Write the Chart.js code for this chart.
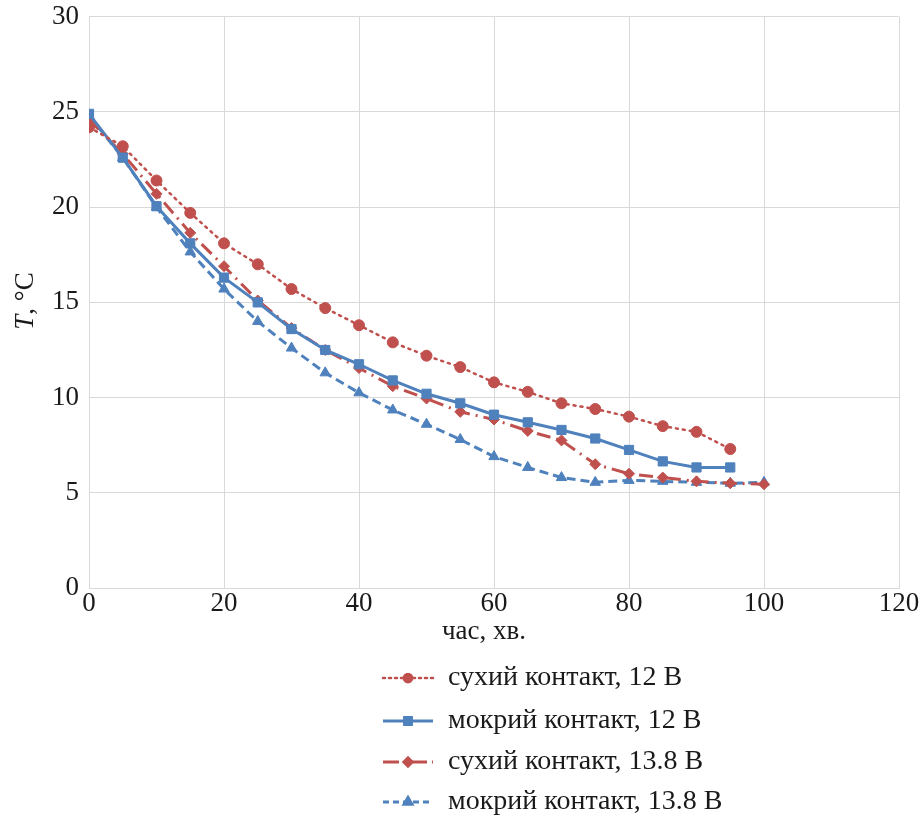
<!DOCTYPE html>
<html>
<head>
<meta charset="utf-8">
<script src="https://cdn.jsdelivr.net/npm/chart.js@4"></script>
<style>
html,body{margin:0;padding:0;background:#fff;}
#wrap{width:923px;height:816px;position:relative;}
</style>
</head>
<body>
<div id="wrap"><canvas id="c" width="923" height="816"></canvas></div>
<script>
const timeShort = [0,5,10,15,20,25,30,35,40,45,50,55,60,65,70,75,80,85,90,95];
const timeLong = [0,5,10,15,20,25,30,35,40,45,50,55,60,65,70,75,80,85,90,95,100];
const dry12 = [24.2,23.2,21.4,19.7,18.1,17.0,15.7,14.7,13.8,12.9,12.2,11.6,10.8,10.3,9.7,9.4,9.0,8.5,8.2,7.3];
const wet12 = [24.9,22.6,20.05,18.1,16.3,15.0,13.6,12.5,11.75,10.9,10.2,9.7,9.1,8.7,8.3,7.85,7.25,6.65,6.33,6.33];
const dry138 = [24.6,22.8,20.7,18.65,16.9,15.1,13.65,12.5,11.55,10.6,9.95,9.25,8.85,8.25,7.75,6.5,6.0,5.8,5.6,5.5,5.45];
const wet138 = [24.8,22.6,20.0,17.65,15.7,14.0,12.6,11.3,10.25,9.35,8.6,7.8,6.9,6.33,5.8,5.55,5.65,5.6,5.55,5.5,5.55];
const seriesNames = ['сухий контакт, 12 В','мокрий контакт, 12 В','сухий контакт, 13.8 В','мокрий контакт, 13.8 В'];
const xTitle = 'час, хв.';

const RED = '#C0504D', BLUE = '#4F81BD';
function pts(xs, ys){ return ys.map((v,i)=>({x:xs[i], y:v})); }

const datasets = [
  {label:seriesNames[0], data:pts(timeShort,dry12), borderColor:RED, borderWidth:2.5, borderDash:[2,5], pointStyle:'circle', pointRadius:5.5, borderCapStyle:'round', legendDash:[2,4]},
  {label:seriesNames[1], data:pts(timeShort,wet12), borderColor:BLUE, borderWidth:3, borderDash:[], pointStyle:'rect', pointRadius:6.5, legendDash:[]},
  {label:seriesNames[2], data:pts(timeLong,dry138), borderColor:RED, borderWidth:3, borderDash:[14,6,2,6], pointStyle:'rectRot', pointRadius:5.5, legendDash:[16,5,2,5]},
  {label:seriesNames[3], data:pts(timeLong,wet138), borderColor:BLUE, borderWidth:3, borderDash:[9,5], pointStyle:'triangle', pointRadius:6, legendDash:[6,4]}
];
datasets.forEach(d=>{ d.backgroundColor=d.borderColor; d.pointBorderWidth=1; d.pointBorderColor=d.borderColor; d.pointBackgroundColor=d.borderColor; d.tension=0; d.fill=false; });

const FONT = "'Liberation Serif', 'Times New Roman', serif";
const TXT = '#1a1a1a';

const extras = {
  id:'extras',
  afterDraw(chart){
    const ctx = chart.ctx;
    // y-axis title
    ctx.save();
    ctx.translate(26, 301);
    ctx.rotate(-Math.PI/2);
    ctx.fillStyle = TXT;
    ctx.textBaseline = 'middle';
    ctx.font = 'italic 27px ' + FONT;
    const t1 = 'T';
    const w1 = ctx.measureText(t1).width;
    ctx.font = '27px ' + FONT;
    const t2 = ', °C';
    const w2 = ctx.measureText(t2).width;
    let sx = -(w1+w2)/2;
    ctx.font = 'italic 27px ' + FONT;
    ctx.textAlign = 'left';
    ctx.fillText(t1, sx, 0);
    ctx.font = '27px ' + FONT;
    ctx.fillText(t2, sx + w1, 0);
    ctx.restore();

    // x-axis title
    ctx.save();
    ctx.fillStyle = TXT;
    ctx.font = '27px ' + FONT;
    ctx.textAlign = 'center';
    ctx.textBaseline = 'middle';
    ctx.fillText(xTitle, 484, 632);
    ctx.restore();

    // legend
    const ys = [678, 721, 762, 802];
    chart.data.datasets.forEach((d,i)=>{
      const y = ys[i];
      ctx.save();
      ctx.strokeStyle = d.borderColor;
      ctx.lineWidth = d.borderWidth;
      ctx.setLineDash(d.legendDash || []);
      ctx.lineCap = d.borderCapStyle || 'butt';
      ctx.beginPath();
      ctx.moveTo(383, y);
      ctx.lineTo(433, y);
      ctx.stroke();
      ctx.setLineDash([]);
      ctx.fillStyle = d.borderColor;
      Chart.helpers.drawPoint(ctx, {pointStyle:d.pointStyle, radius:d.pointRadius*0.75, rotation:0, borderWidth:1}, 408, y);
      ctx.fillStyle = TXT;
      ctx.font = '28px ' + FONT;
      ctx.textAlign = 'left';
      ctx.textBaseline = 'middle';
      ctx.fillText(d.label, 448, y);
      ctx.restore();
    });
  }
};

new Chart(document.getElementById('c'), {
  type:'line',
  data:{datasets},
  options:{
    responsive:false,
    animation:false,
    layout:{padding:{left:0, right:24, top:16, bottom:166}},
    plugins:{legend:{display:false}, tooltip:{enabled:false}},
    scales:{
      x:{
        type:'linear', min:0, max:120,
        ticks:{stepSize:20, color:TXT, font:{family:FONT, size:27}, padding:0, maxRotation:0},
        grid:{color:'#d9d9d9', lineWidth:1, drawTicks:false},
        border:{color:'#d9d9d9'},
        title:{display:false},
        afterFit(s){ s.height = 62; }
      },
      y:{
        min:0, max:30,
        ticks:{stepSize:5, color:TXT, font:{family:FONT, size:27, lineHeight:0.5}, padding:10},
        grid:{color:'#d9d9d9', lineWidth:1, drawTicks:false},
        border:{color:'#d9d9d9'},
        afterFit(s){ s.width = 89; }
      }
    }
  },
  plugins:[extras]
});
</script>
</body>
</html>
